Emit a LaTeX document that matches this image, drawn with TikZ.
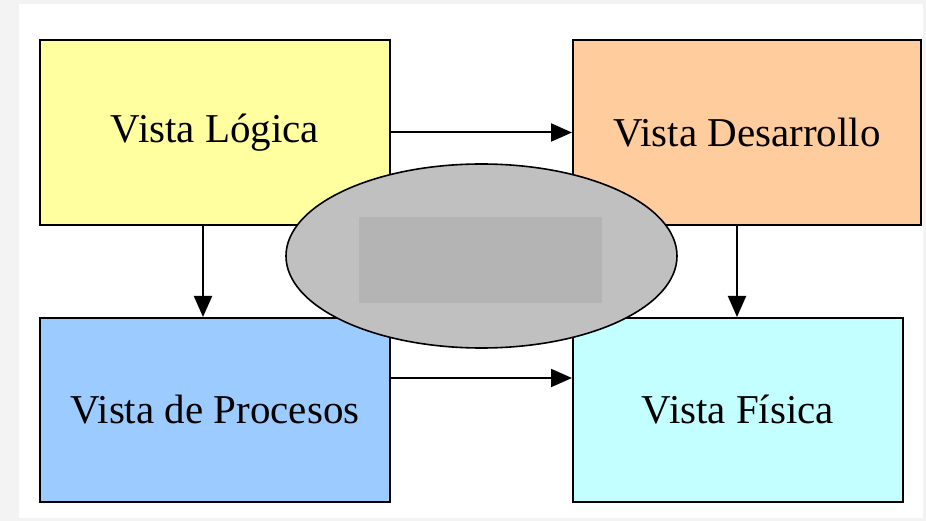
\documentclass[tikz,border=0pt]{standalone}
\usepackage{fontspec}
\setmainfont{Liberation Serif}
\usetikzlibrary{arrows.meta,shapes.geometric}
\definecolor{bgout}{HTML}{F3F3F3}
\definecolor{cyel}{HTML}{FFFF9F}
\definecolor{cora}{HTML}{FFCC9E}
\definecolor{cblu}{HTML}{9CCCFF}
\definecolor{ccya}{HTML}{C4FFFF}
\definecolor{cell}{HTML}{C0C0C0}
\definecolor{cinn}{HTML}{B4B4B4}
\begin{document}
\begin{tikzpicture}[x=1pt,y=-1pt,
  viewbox/.style={draw=black,line width=2pt,inner sep=0pt,
    font=\fontsize{41}{44}\selectfont,text=black},
  conn/.style={line width=2pt,-{Triangle[length=21pt,width=18pt]}}]
\useasboundingbox (0,0) rectangle (926,521);
\fill[bgout] (0,0) rectangle (926,521);
\fill[white] (19,4) rectangle (923,518);
\node[viewbox,fill=cyel,minimum width=350pt,minimum height=185pt] (log) at (215,132.5) {Vista Lógica};
\node[viewbox,fill=cora,minimum width=348pt,minimum height=185pt] (des) at (747,132.5) {Vista Desarrollo};
\node[viewbox,fill=cblu,minimum width=350pt,minimum height=184pt] (pro) at (215,410) {Vista de Procesos};
\node[viewbox,fill=ccya,minimum width=330pt,minimum height=184pt] (fis) at (738,410) {Vista Física};
\draw[conn] (log.east) -- (des.west);
\draw[conn] ([yshift=-61pt]pro.north east) -- ([yshift=-61pt]fis.north west);
\draw[conn] ([xshift=164pt]log.south west) -- ([xshift=164pt]pro.north west);
\draw[conn] ([xshift=165pt]des.south west) -- ([xshift=165pt]fis.north west);
\node[ellipse,draw=black,line width=1.6pt,fill=cell,inner sep=0pt,minimum width=391pt,minimum height=184pt] (ell) at (481.5,256) {};
\node[fill=cinn,inner sep=0pt,minimum width=243pt,minimum height=86pt] (inn) at (480.5,260) {};
\end{tikzpicture}
\end{document}
